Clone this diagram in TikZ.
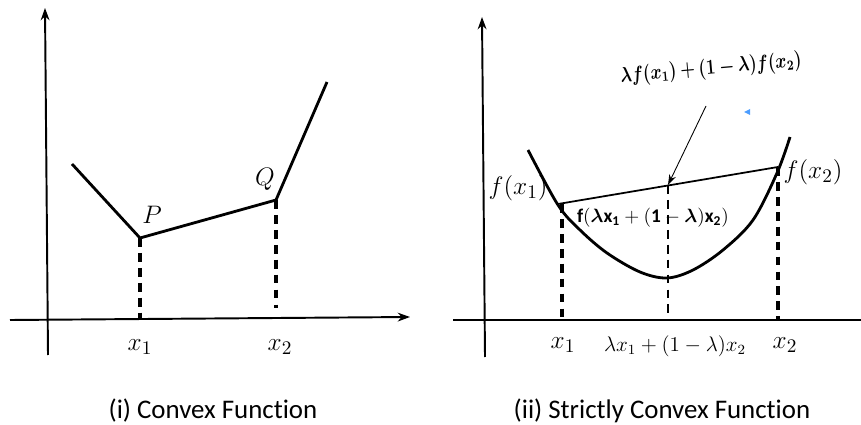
\documentclass[tikz,border=0pt]{standalone}
\usepackage{fontspec}
\setmainfont[Ligatures=NoCommon]{Carlito}
\usepackage{amsmath}
\usepackage{bm}
\usetikzlibrary{arrows.meta}
\begin{document}
\begin{tikzpicture}[x=0.02cm,y=-0.02cm,
  axis/.style={line width=1.1pt},
  graph/.style={line width=1.6pt},
  guide/.style={line width=1.9pt,dash pattern=on 5pt off 3.5pt},
  mlabel/.style={inner sep=0pt,font=\fontsize{15}{17}\selectfont},
  caption/.style={inner sep=0pt,font=\fontsize{15.3}{17}\selectfont}]
\useasboundingbox (0,0) rectangle (861,425);
% ---------- left panel ----------
\coordinate (ly0) at (48,355);
\coordinate (ly1) at (45,8);
\coordinate (lx0) at (10,320);
\coordinate (lx1) at (410,317);
\draw[axis,-{Stealth[length=7pt,width=5pt]}] (ly0) -- (ly1);
\draw[axis,-{Stealth[length=7pt,width=5pt]}] (lx0) -- (lx1);
\coordinate (A) at (72,164);
\coordinate (P) at (140,238);
\coordinate (Q) at (276,200);
\coordinate (B) at (327,82);
\draw[graph,line join=miter] (A) -- (P) -- (Q) -- (B);
\coordinate (Pf) at (140,318);
\coordinate (Qf) at (276,308);
\draw[guide] (P) -- (Pf);
\draw[guide] (Q) -- (Qf);
\node[mlabel] (Plab) at (152,215) {$P$};
\node[mlabel] (Qlab) at (265,179) {$Q$};
\node[mlabel] (lx1lab) at (140,347) {$x_1$};
\node[mlabel] (lx2lab) at (280,347) {$x_2$};
\node[caption] (cap1) at (213,411) {(i) Convex Function};
% ---------- right panel ----------
\coordinate (ry0) at (485,357);
\coordinate (ry1) at (482,17);
\coordinate (rx0) at (453,320);
\coordinate (rx1) at (861,320);
\draw[axis,-{Stealth[length=7pt,width=5pt]}] (ry0) -- (ry1);
\draw[axis] (rx0) -- (rx1);
\coordinate (F1) at (558,204);
\coordinate (F2) at (778,167);
\coordinate (M) at (668,185);
\draw[graph] plot[smooth,tension=0.55] coordinates {(528,150) (558,205) (580,230) (607,253) (640,272) (667,278) (693,270) (723,250) (753,220) (777,173) (790,137)};
\draw[line width=1pt] (F1) -- (F2);
\coordinate (F1f) at (562,320);
\coordinate (F2f) at (778,320);
\coordinate (Mf) at (668,320);
\draw[guide] (F1) ++(4,0) -- (F1f);
\draw[guide] (F2) -- (F2f);
\draw[guide,line width=1.4pt] (M) -- (Mf);
\node[mlabel] (f1lab) at (518,188) {$f(x_1)$};
\node[mlabel] (f2lab) at (813,172) {$f(x_2)$};
\node[inner sep=1pt,rotate=5,xscale=0.8,font=\fontsize{11.5}{13}\selectfont] (chordlab) at (711,69) {$\bm{\lambda f(x_1)+(1-\lambda)f(x_2)}$};
\coordinate (arrtail) at (706,106);
\draw[line width=0.5pt,-{Stealth[length=6pt,width=4pt]}] (arrtail) -- (M);
\node[inner sep=0pt,font=\fontsize{11}{13}\selectfont] (fmidlab) at (653,218) {$\mathbf{f(\bm{\lambda}x_1+(1-\bm{\lambda})x_2)}$};
\fill[blue!55!cyan!70] (744,112) -- (750,109) -- (750,115) -- cycle;
\node[mlabel] (rx1lab) at (563,345) {$x_1$};
\node[inner sep=0pt,font=\fontsize{12}{14}\selectfont] (rmidlab) at (675,346) {$\lambda x_1+(1-\lambda)x_2$};
\node[mlabel] (rx2lab) at (785,345) {$x_2$};
\node[caption] (cap2) at (662,411) {(ii) Strictly Convex Function};
\end{tikzpicture}
\end{document}
